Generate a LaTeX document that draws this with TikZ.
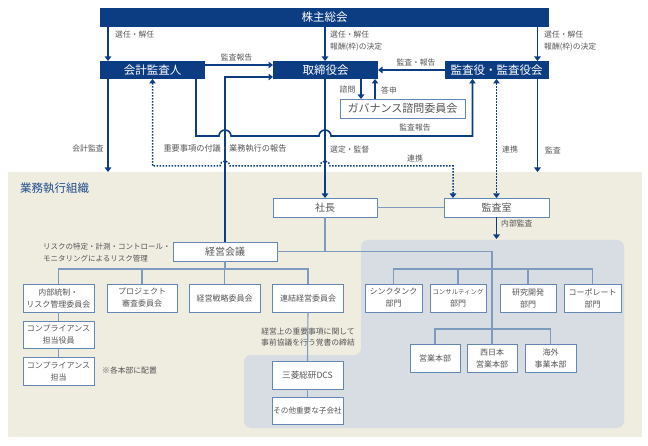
\documentclass[tikz,border=0pt]{standalone}
\usepackage{fontspec}
\setmainfont{Noto Sans CJK JP}
\usetikzlibrary{arrows.meta,calc}
\definecolor{navy}{RGB}{12,60,130}
\definecolor{boxline}{RGB}{100,135,180}
\definecolor{treeline}{RGB}{125,155,190}
\definecolor{txt}{RGB}{85,85,85}
\definecolor{beige}{RGB}{239,236,224}
\definecolor{grayreg}{RGB}{216,220,227}
\definecolor{orgblue}{RGB}{30,75,140}
\tikzset{
  navybox/.style={fill=navy, text=white, font=\fontsize{11.5}{12}\selectfont, inner sep=0pt, outer sep=0pt, minimum height=18pt},
  wbox/.style={draw=boxline, line width=0.9pt, fill=white, text=txt, font=\fontsize{8}{12}\selectfont, align=center, inner sep=0pt, outer sep=0pt},
  bigtxt/.style={font=\fontsize{10}{12}\selectfont},
  lbl/.style={text=txt, font=\fontsize{7.8}{12}\selectfont, inner sep=0pt, align=left},
  arr/.style={draw=navy, line width=1.6pt, -{Triangle[width=6.5pt,length=4.5pt]}},
  dotarr/.style={draw=navy, line width=1.5pt, dash pattern=on 1.5pt off 1.5pt, {Triangle[width=6.5pt,length=4.5pt]}-{Triangle[width=6.5pt,length=4.5pt]}},
  tree/.style={draw=treeline, line width=1.1pt}
}
\begin{document}
\begin{tikzpicture}[x=1pt,y=-1pt]
\useasboundingbox (0,0) rectangle (648,446);
\fill[white] (0,0) rectangle (648,446);
\fill[beige] (8,172) rectangle (642,437);
\fill[grayreg, rounded corners=7pt] (361,240) -- (624,240) -- (624,428) -- (244,428) -- (244,355) -- (361,355) -- cycle;

% top boxes
\node[navybox, minimum width=449pt, minimum height=19pt] (sh) at (324.5,17.5) {株主総会};
\node[navybox, minimum width=105pt] (aud) at (152.5,70) {会計監査人};
\node[navybox, minimum width=105pt] (brd) at (325.5,70) {取締役会};
\node[navybox, minimum width=104pt] (ksy) at (496.5,70) {監査役・監査役会};
\node[wbox, minimum width=125pt, minimum height=19pt, font=\fontsize{11}{12}\selectfont] (gov) at (402.5,108.5) {ガバナンス諮問委員会};

% organisation boxes
\node[wbox, bigtxt, minimum width=104pt, minimum height=19pt] (pres) at (325,207.5) {社長};
\node[wbox, bigtxt, minimum width=105pt, minimum height=19pt] (room) at (496.5,207.5) {監査室};
\node[wbox, bigtxt, minimum width=104pt, minimum height=19pt] (kei) at (225,251.5) {経営会議};

\node[wbox, minimum width=71pt, minimum height=28pt] (naibu) at (58.5,298) {内部統制・\\リスク管理委員会};
\node[wbox, minimum width=70pt, minimum height=28pt] (proj) at (142,298) {プロジェクト\\審査委員会};
\node[wbox, minimum width=71pt, minimum height=28pt] (senryaku) at (224.5,298) {経営戦略委員会};
\node[wbox, minimum width=71pt, minimum height=28pt] (renketsu) at (308,298) {連結経営委員会};
\node[wbox, minimum width=57pt, minimum height=28pt] (think) at (393.5,298) {シンクタンク\\部門};
\node[wbox, minimum width=56pt, minimum height=28pt] (consul) at (458,298) {{\fontsize{6.4}{12}\selectfont コンサルティング}\\部門};
\node[wbox, minimum width=56pt, minimum height=28pt] (rnd) at (528,298) {研究開発\\部門};
\node[wbox, minimum width=57pt, minimum height=28pt] (corp) at (592.5,298) {コーポレート\\部門};
\node[wbox, minimum width=50pt, minimum height=28pt] (eigyo) at (435,358) {営業本部};
\node[wbox, minimum width=50pt, minimum height=28pt] (nishi) at (492,358) {西日本\\営業本部};
\node[wbox, minimum width=51pt, minimum height=28pt] (kaigai) at (550.5,358) {海外\\事業本部};
\node[wbox, minimum width=71pt, minimum height=27pt] (cofficer) at (58.5,334.5) {コンプライアンス\\担当役員};
\node[wbox, minimum width=71pt, minimum height=28pt] (cstaff) at (58.5,371) {コンプライアンス\\担当};
\node[wbox, minimum width=71pt, minimum height=28pt, font=\fontsize{8.6}{12}\selectfont] (dcs) at (307.5,375) {三菱総研DCS};
\node[wbox, minimum width=71pt, minimum height=27pt, font=\fontsize{7.6}{12}\selectfont] (other) at (307.5,410.5) {その他重要な子会社};

% helper levels
\coordinate (lvA) at (0,136);
\coordinate (lvB) at (0,166);
\coordinate (orgtop) at (0,172);
\coordinate (graytop) at (0,239);
\coordinate (bus1) at (0,269);
\coordinate (bus2) at (0,329);

% tree lines
\draw[tree] (pres.south) -- (pres.south |- kei.east);
\draw[tree] (kei.east) -| (nishi.north);
\draw[tree] (pres.east) -- (room.west);
\draw[tree] (think.north) |- (corp.north |- bus1) -- (corp.north);
\draw[tree] (consul.north) -- (consul.north |- bus1);
\draw[tree] (rnd.north) -- (rnd.north |- bus1);
\draw[tree] (eigyo.north) |- (kaigai.north |- bus2) -- (kaigai.north);
\draw[tree] (kei.south) -- (kei.south |- bus1);
\draw[tree] (naibu.north) |- (renketsu.north |- bus1) -- (renketsu.north);
\draw[tree] (proj.north) -- (proj.north |- bus1);
\draw[tree] (senryaku.north) -- (senryaku.north |- bus1);
\draw[tree] (naibu.south) -- (cofficer.north);
\draw[tree] (cofficer.south) -- (cstaff.north);
\draw[tree] (renketsu.south) -- (dcs.north);
\draw[tree] (dcs.south) -- (other.north);

% arrows from shareholders
\coordinate (s1) at ([xshift=8pt]aud.north west);
\draw[arr] (sh.south -| s1) -- (s1);
\draw[arr] (sh.south -| pres.north) -- (brd.north -| pres.north);
\coordinate (s3) at ([xshift=-11pt]ksy.north east);
\draw[arr] (sh.south -| s3) -- (s3);

% auditor -> board
\draw[arr] ([yshift=-4pt]aud.north east) -- ([yshift=-4pt]brd.north west);
% management council -> board
\draw[arr] (kei.north) |- ([yshift=2pt]brd.south west);
% auditor -> kansayaku (with jumps)
\coordinate (a2) at ([xshift=-9pt]aud.south east);
\coordinate (k2) at ([xshift=28pt]ksy.south west);
\draw[arr] (a2) |- ($(kei.north |- lvA)+(-6,0)$) arc[start angle=180,end angle=0,radius=6pt]
  -- ($(pres.north |- lvA)+(-6,0)$) arc[start angle=180,end angle=0,radius=6pt] -| (k2);
% dotted cooperation
\coordinate (r1) at ([xshift=9pt]room.north west);
\draw[dotarr] (aud.south) |- ($(kei.north |- lvB)+(-5,0)$) arc[start angle=180,end angle=0,radius=5pt]
  -- ($(pres.north |- lvB)+(-5,0)$) arc[start angle=180,end angle=0,radius=5pt] -| (r1);
\draw[dotarr] (ksy.south -| room.north) -- (room.north);
% board -> president
\draw[arr] (brd.south -| pres.north) -- (pres.north);
% audits into organisation
\coordinate (a3) at ([xshift=8pt]aud.south west);
\draw[arr] (a3) -- (a3 |- orgtop);
\coordinate (k3) at ([xshift=-11pt]ksy.south east);
\draw[arr] (k3) -- (k3 |- orgtop);
% kansayaku -> board
\draw[arr] (ksy.west) -- (brd.east);
% governance committee
\coordinate (g1) at ([xshift=21pt]gov.north west);
\draw[arr] (brd.south -| g1) -- (g1);
\coordinate (g2) at ([xshift=35pt]gov.north west);
\draw[arr] (g2) -- (brd.south -| g2);
% internal audit
\draw[arr] (room.south) -- (room.south |- graytop);

% labels
\node[lbl, anchor=west] (l1) at (115,35) {選任・解任};
\node[lbl, anchor=west] (l2) at (330,41) {選任・解任\\報酬(枠)の決定};
\node[lbl, anchor=west] (l3) at (544,41) {選任・解任\\報酬(枠)の決定};
\node[lbl] (l4) at (236.5,58) {監査報告};
\node[lbl] (l5) at (416,63) {監査・報告};
\node[lbl] (l6) at (347.5,90) {諮問};
\node[lbl] (l7) at (389,90) {答申};
\node[lbl] (l8) at (415,128) {監査報告};
\node[lbl] (l9) at (88,149) {会計監査};
\node[lbl, font=\fontsize{8.2}{12}\selectfont] (l10) at (225,148) {重要事項の付議・業務執行の報告};
\node[lbl, anchor=west] (l11) at (330,150) {選定・監督};
\node[lbl] (l12) at (415,159) {連携};
\node[lbl] (l13) at (510,150) {連携};
\node[lbl] (l14) at (553,150) {監査};
\node[text=orgblue, font=\fontsize{11.5}{12}\selectfont, anchor=west, inner sep=0pt] (org) at (20,188) {業務執行組織};
\node[lbl, anchor=west] (l15) at (501,224) {内部監査};
\node[lbl, anchor=west, font=\fontsize{7.5}{12}\selectfont] (l16) at (43,253) {リスクの特定・計測・コントロール・\\モニタリングによるリスク管理};
\node[lbl, align=center, font=\fontsize{7.8}{11}\selectfont] (l17) at (308,337.5) {経営上の重要事項に関して\\事前協議を行う覚書の締結};
\node[lbl, anchor=west] (l18) at (102,371) {※各本部に配置};
\end{tikzpicture}
\end{document}
